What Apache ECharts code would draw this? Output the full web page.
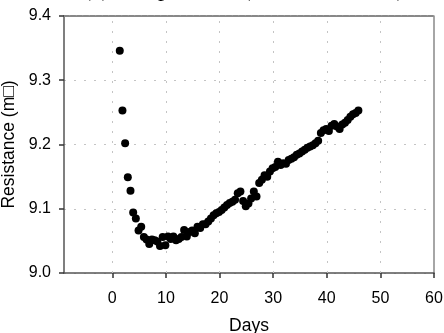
<!DOCTYPE html>
<html>
<head>
<meta charset="utf-8">
<script src="https://cdn.jsdelivr.net/npm/echarts@6/dist/echarts.min.js"></script>
<style>html,body{margin:0;padding:0;background:#fff}#c{width:444px;height:333px}</style>
</head>
<body>
<div id="c"></div>
<script>
const titleText = "(c) Temperature (85 \u00B0C and 85%)";
const xName = "Days";
const yName = "Resistance (m\u25A1)";
const xTicks = [0, 10, 20, 30, 40, 50, 60];
const xGridLines = [0, 10, 20, 30, 40, 50];
const days = [1.4,1.9,2.4,2.9,3.4,3.9,4.4,4.9,5.4,5.9,6.4,6.9,7.4,7.9,8.4,8.9,9.4,9.9,10.4,10.9,11.4,11.9,12.4,12.9,13.4,13.9,14.4,14.9,15.4,15.9,16.4,16.9,17.4,17.9,18.4,18.9,19.4,19.9,20.4,20.9,21.4,21.9,22.4,22.9,23.4,23.9,24.4,24.9,25.4,25.9,26.4,26.9,27.4,27.9,28.4,28.9,29.4,29.9,30.4,30.9,31.4,31.9,32.4,32.9,33.4,33.9,34.4,34.9,35.4,35.9,36.4,36.9,37.4,37.9,38.4,38.9,39.4,39.9,40.4,40.9,41.4,41.9,42.4,42.9,43.4,43.9,44.4,44.9,45.4,45.9];
const resistance = [9.346,9.253,9.202,9.149,9.128,9.094,9.085,9.066,9.072,9.056,9.052,9.045,9.052,9.051,9.049,9.042,9.056,9.043,9.057,9.053,9.057,9.051,9.053,9.056,9.067,9.057,9.064,9.066,9.062,9.072,9.070,9.076,9.076,9.080,9.085,9.090,9.093,9.095,9.098,9.102,9.106,9.109,9.111,9.114,9.124,9.127,9.112,9.104,9.108,9.116,9.127,9.119,9.140,9.145,9.152,9.150,9.158,9.163,9.165,9.173,9.168,9.171,9.170,9.176,9.178,9.180,9.184,9.186,9.189,9.192,9.195,9.197,9.199,9.202,9.206,9.218,9.222,9.224,9.221,9.229,9.232,9.228,9.224,9.231,9.234,9.238,9.243,9.247,9.249,9.253];

const chart = echarts.init(document.getElementById('c'), null, {renderer: 'canvas'});
const sans = '"Liberation Sans", Arial, sans-serif';
chart.setOption({
  animation: false,
  backgroundColor: '#fff',
  title: {
    text: titleText, left: 78, top: -27,
    textStyle: {fontFamily: '"Liberation Serif", "Times New Roman", serif', fontSize: 24, fontWeight: 'normal', color: '#000'}
  },
  grid: {left: 64, right: 10, top: 16, bottom: 60, containLabel: false, outerBoundsMode: 'none'},
  xAxis: [{
    type: 'value', min: -9, max: 60, position: 'bottom',
    name: xName, nameLocation: 'middle', nameGap: 44,
    nameTextStyle: {fontFamily: sans, fontSize: 17.5, color: '#000'},
    axisLine: {show: true, onZero: false, lineStyle: {color: '#555', width: 1.5}},
    axisTick: {show: true, inside: false, length: 5, customValues: xTicks, lineStyle: {color: '#333', width: 1.5}},
    axisLabel: {customValues: xTicks, margin: 18, fontFamily: sans, fontSize: 16, color: '#000'},
    splitLine: {show: false}
  }, {
    type: 'value', min: -9, max: 60, position: 'top',
    axisLine: {show: true, onZero: false, lineStyle: {color: '#888', width: 2, type: [5, 1.5]}},
    axisTick: {show: false}, axisLabel: {show: false}, splitLine: {show: false}
  }],
  yAxis: [{
    type: 'value', min: 9.0, max: 9.4, interval: 0.1, position: 'left',
    name: yName, nameLocation: 'middle', nameGap: 46, nameRotate: 90,
    nameTextStyle: {fontFamily: sans, fontSize: 17.5, color: '#000'},
    axisLine: {show: true, onZero: false, lineStyle: {color: '#555', width: 1.5}},
    axisTick: {show: true, inside: false, length: 5, lineStyle: {color: '#333', width: 1.5}},
    axisLabel: {margin: 13, fontFamily: sans, fontSize: 16, color: '#000', formatter: v => v.toFixed(1)},
    splitLine: {show: true, lineStyle: {color: '#c4c4c4', width: 1, type: [2, 8]}}
  }, {
    type: 'value', min: 9.0, max: 9.4, position: 'right',
    axisLine: {show: true, onZero: false, lineStyle: {color: '#888', width: 1.5}},
    axisTick: {show: false}, axisLabel: {show: false}, splitLine: {show: false}
  }],
  series: [{
    type: 'scatter',
    xAxisIndex: 0, yAxisIndex: 0,
    data: days.map((d, i) => [d, resistance[i]]),
    symbol: 'circle', symbolSize: 8,
    itemStyle: {color: '#000', opacity: 1},
    z: 5,
    markLine: {
      silent: true, symbol: 'none', label: {show: false},
      lineStyle: {color: '#c4c4c4', width: 1, type: [2, 8]},
      data: xGridLines.map(v => ({xAxis: v}))
    }
  }]
});
</script>
</body>
</html>
